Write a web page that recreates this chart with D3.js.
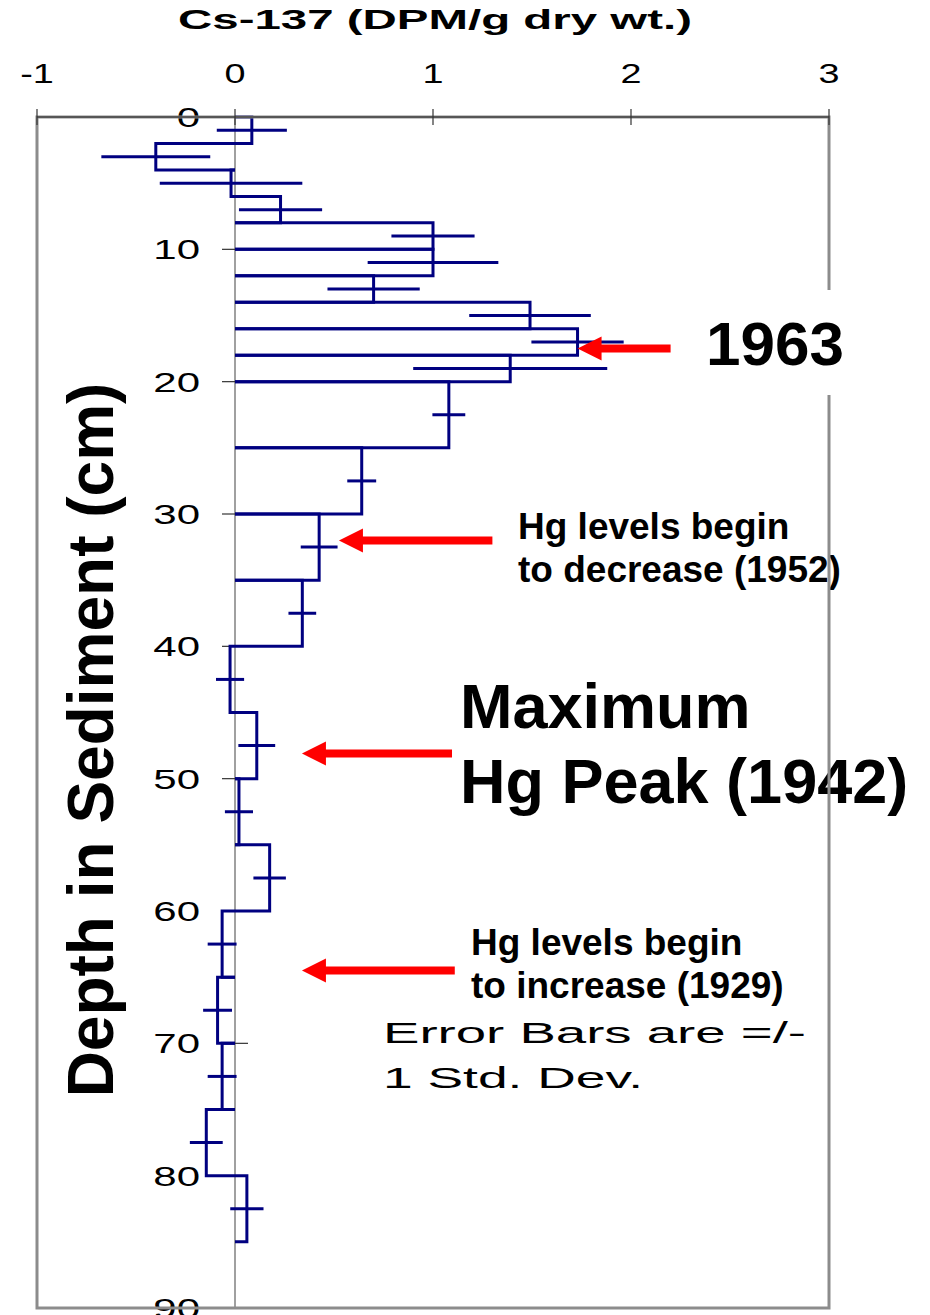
<!DOCTYPE html>
<html>
<head>
<meta charset="utf-8">
<script src="https://cdn.jsdelivr.net/npm/d3@7"></script>
<style>
  body { margin: 0; background: #fff; }
  text { font-family: "Liberation Sans", Arial, sans-serif; }
</style>
</head>
<body>
<div id="chart"></div>
<script>
// sediment core slices (cm) and Cs-137 activity
const depthTop    = [0, 2, 4, 6, 8, 10, 12, 14, 16, 18, 20, 25, 30, 35, 40, 45, 50, 55, 60, 65, 70, 75, 80];
const depthBottom = [2, 4, 6, 8, 10, 12, 14, 16, 18, 20, 25, 30, 35, 40, 45, 50, 55, 60, 65, 70, 75, 80, 85];
const cs137  = [0.085, -0.40, -0.02, 0.23, 1.0, 1.0, 0.70, 1.49, 1.73, 1.39, 1.08, 0.64, 0.425, 0.34, -0.025, 0.11, 0.02, 0.175, -0.065, -0.088, -0.065, -0.145, 0.06];
const stdDev = [0.177, 0.275, 0.36, 0.21, 0.21, 0.33, 0.233, 0.307, 0.233, 0.49, 0.083, 0.073, 0.093, 0.07, 0.071, 0.093, 0.071, 0.082, 0.073, 0.073, 0.073, 0.083, 0.084];
const xTicks = [-1, 0, 1, 2, 3];
const yTicks = [0, 10, 20, 30, 40, 50, 60, 70, 80, 90];

// arrows: depth, tip value, tail value
const arrowDepth = [17.5, 32, 48.1, 64.5];
const arrowTip   = [1.73, 0.525, 0.338, 0.338];
const arrowTail  = [2.2, 1.30, 1.096, 1.11];

const slices = depthTop.map((t, i) => ({ top: t, bottom: depthBottom[i], v: cs137[i], sd: stdDev[i] }));

const svg = d3.select('#chart').append('svg')
  .attr('width', 930)
  .attr('height', 1315);

const x = d3.scaleLinear().domain([-1, 3]).range([37, 829]);
const y = d3.scaleLinear().domain([0, 90]).range([117, 1308]);

// title
svg.append('text')
  .attr('x', 435).attr('y', 29)
  .attr('text-anchor', 'middle')
  .attr('font-size', 27).attr('font-weight', 'bold')
  .attr('textLength', 514).attr('lengthAdjust', 'spacingAndGlyphs')
  .text('Cs-137 (DPM/g dry wt.)');

// top tick labels
svg.selectAll('.xlab').data(xTicks).enter().append('text')
  .attr('class', 'xlab')
  .attr('transform', d => `translate(${x(d)},83) scale(1.4,1)`)
  .attr('text-anchor', 'middle')
  .attr('font-size', 27)
  .text(d => d);

// y label
svg.append('text')
  .attr('transform', `translate(113,740) rotate(-90)`)
  .attr('text-anchor', 'middle')
  .attr('font-size', 64).attr('font-weight', 'bold')
  .text('Depth in Sediment (cm)');

// zero line
svg.append('line')
  .attr('x1', x(0)).attr('x2', x(0))
  .attr('y1', y(0)).attr('y2', y(90))
  .attr('stroke', '#808080').attr('stroke-width', 1.5);

// depth ticks
svg.selectAll('.ytick').data(yTicks).enter().append('line')
  .attr('class', 'ytick')
  .attr('x1', x(0) - 13).attr('x2', x(0) + 13)
  .attr('y1', d => y(d)).attr('y2', d => y(d))
  .attr('stroke', '#333').attr('stroke-width', 1.2);

// step profile
svg.selectAll('.slice').data(slices).enter().append('path')
  .attr('class', 'slice')
  .attr('d', d => `M${x(0)},${y(d.top)}H${x(d.v)}V${y(d.bottom)}H${x(0)}`)
  .attr('fill', 'none')
  .attr('stroke', '#000080')
  .attr('stroke-width', 3);

// error bars
svg.selectAll('.err').data(slices).enter().append('line')
  .attr('class', 'err')
  .attr('x1', d => x(d.v - d.sd)).attr('x2', d => x(d.v + d.sd))
  .attr('y1', d => y((d.top + d.bottom) / 2)).attr('y2', d => y((d.top + d.bottom) / 2))
  .attr('stroke', '#000080')
  .attr('stroke-width', 3);

// depth labels
svg.selectAll('.ylab').data(yTicks).enter().append('text')
  .attr('class', 'ylab')
  .attr('transform', d => `translate(200,${y(d) + 10}) scale(1.5,1)`)
  .attr('text-anchor', 'end')
  .attr('font-size', 28)
  .text(d => d);

// annotations
function lines(xp, ys, strs, size, weight, lens) {
  strs.forEach((s, i) => {
    const t = svg.append('text')
      .attr('x', xp).attr('y', ys[i])
      .attr('font-size', size).attr('font-weight', weight)
      .text(s);
    if (lens) t.attr('textLength', lens[i]).attr('lengthAdjust', 'spacingAndGlyphs');
  });
}
lines(518, [539, 582], ['Hg levels begin', 'to decrease (1952)'], 37, 'bold');
lines(460, [728, 803], ['Maximum', 'Hg Peak (1942)'], 63, 'bold');
lines(471, [955, 998], ['Hg levels begin', 'to increase (1929)'], 37, 'bold');
lines(383, [1043, 1088], ['Error Bars are =/-', '1 Std. Dev.'], 30, 'normal', [423, 260]);

// plot frame
svg.append('rect')
  .attr('x', x(-1)).attr('y', y(0))
  .attr('width', x(3) - x(-1)).attr('height', y(90) - y(0))
  .attr('fill', 'none')
  .attr('stroke', '#8c8c8c').attr('stroke-width', 3);

// top axis
svg.append('line')
  .attr('x1', x(-1)).attr('x2', x(3))
  .attr('y1', y(0)).attr('y2', y(0))
  .attr('stroke', '#444').attr('stroke-width', 1.5);
svg.selectAll('.xtick').data(xTicks).enter().append('line')
  .attr('class', 'xtick')
  .attr('x1', d => x(d)).attr('x2', d => x(d))
  .attr('y1', y(0) - 8).attr('y2', y(0) + 8)
  .attr('stroke', '#333').attr('stroke-width', 1.2);

// 1963 label box
svg.append('rect')
  .attr('x', 700).attr('y', 290)
  .attr('width', 160).attr('height', 105)
  .attr('fill', '#fff');
svg.append('text')
  .attr('x', 706).attr('y', 365)
  .attr('font-size', 62).attr('font-weight', 'bold')
  .text('1963');

// red arrows
const arrows = arrowDepth.map((d, i) => ({ d: d, tip: arrowTip[i], tail: arrowTail[i] }));
const ag = svg.selectAll('.arrow').data(arrows).enter().append('g').attr('class', 'arrow');
ag.append('line')
  .attr('x1', d => x(d.tip) + 20).attr('x2', d => x(d.tail))
  .attr('y1', d => y(d.d)).attr('y2', d => y(d.d))
  .attr('stroke', '#ff0000').attr('stroke-width', 8);
ag.append('path')
  .attr('d', d => {
    const tx = x(d.tip), ty = y(d.d);
    return `M${tx},${ty}L${tx + 24},${ty - 12}L${tx + 24},${ty + 12}Z`;
  })
  .attr('fill', '#ff0000');
</script>
</body>
</html>
